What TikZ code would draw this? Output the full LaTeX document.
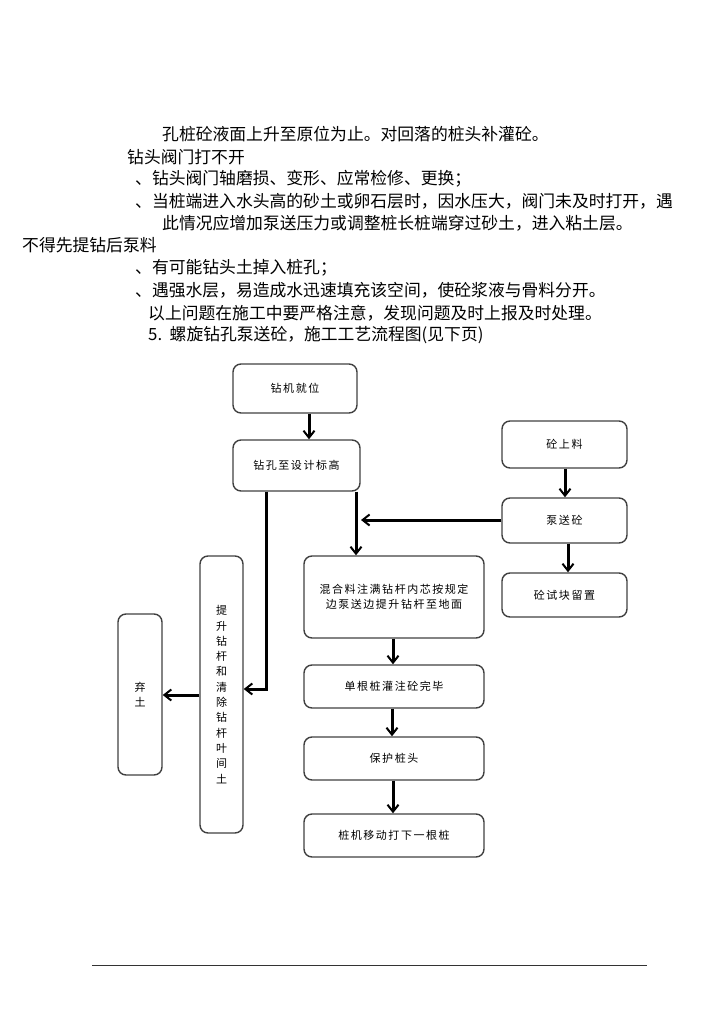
\documentclass[tikz,border=0pt]{standalone}
\usepackage{fontspec}
\setmainfont{Noto Sans CJK SC}
\newfontfamily\boxfont[LetterSpace=14]{Noto Sans CJK SC}
\usetikzlibrary{arrows.meta}
\begin{document}
\begin{tikzpicture}[x=1pt,y=-1pt,
  txt/.style={anchor=west,inner sep=0pt,font=\fontsize{16.8}{18}\selectfont},
  box/.style={draw=black!75,line width=1.4pt,rounded corners=8pt,inner sep=0pt,
    font=\boxfont\fontsize{11}{15}\selectfont,align=center},
  arr/.style={line width=3pt,-{Straight Barb[length=7pt,width=11pt,line width=2pt]}}]
\useasboundingbox (0,0) rectangle (724,1024);
% text
\node[txt] (t1) at (162,134) {孔桩砼液面上升至原位为止。对回落的桩头补灌砼。};
\node[txt] (t2) at (127,157) {钻头阀门打不开};
\node[txt] (t3) at (135,179) {、钻头阀门轴磨损、变形、应常检修、更换；};
\node[txt] (t4) at (135,201) {、当桩端进入水头高的砂土或卵石层时，因水压大，阀门未及时打开，遇};
\node[txt] (t5) at (162,223) {此情况应增加泵送压力或调整桩长桩端穿过砂土，进入粘土层。};
\node[txt] (t6) at (22,245) {不得先提钻后泵料};
\node[txt] (t7) at (135,268) {、有可能钻头土掉入桩孔；};
\node[txt] (t8) at (135,290) {、遇强水层，易造成水迅速填充该空间，使砼浆液与骨料分开。};
\node[txt] (t9) at (148,313) {以上问题在施工中要严格注意，发现问题及时上报及时处理。};
\node[txt] (t10) at (148,335) {5.\ \ 螺旋钻孔泵送砼，施工工艺流程图(见下页)};
% boxes
\node[box,minimum width=124pt,minimum height=49pt] (jw) at (295,388.5) {钻机就位};
\node[box,minimum width=127pt,minimum height=51pt] (zk) at (296.5,465.5) {钻孔至设计标高};
\node[box,minimum width=125pt,minimum height=47pt] (sl) at (564.5,444.5) {砼上料};
\node[box,minimum width=125pt,minimum height=45pt] (bs) at (564.5,520.5) {泵送砼};
\node[box,minimum width=125pt,minimum height=44pt] (sk) at (564.5,595) {砼试块留置};
\node[box,minimum width=180pt,minimum height=82pt] (hh) at (394,597) {混合料注满钻杆内芯按规定\\边泵送边提升钻杆至地面};
\node[box,minimum width=180pt,minimum height=43pt] (dg) at (394,686.5) {单根桩灌注砼完毕};
\node[box,minimum width=180pt,minimum height=43pt] (bh) at (394,758.5) {保护桩头};
\node[box,minimum width=180pt,minimum height=43pt] (zy) at (394,835.5) {桩机移动打下一根桩};
\node[box,minimum width=43pt,minimum height=277pt,font=\boxfont\fontsize{11}{15.3}\selectfont] (ts) at (221.5,694.5) {提\\升\\钻\\杆\\和\\清\\除\\钻\\杆\\叶\\间\\土};
\node[box,minimum width=44pt,minimum height=161pt] (qt) at (140,694.5) {弃\\土};
% connectors
\draw[arr] (jw.south -| 309,0) -- (zk.north -| 309,0);
\draw[arr] (zk.south -| 356,0) -- (hh.north -| 356,0);
\draw[arr] (zk.south -| 266,0) |- (ts.east |- 0,689);
\coordinate (pj) at (361,520);
\draw[arr] (bs.west |- pj) -- (pj);
\draw[arr] (sl.south -| 565,0) -- (bs.north -| 565,0);
\draw[arr] (bs.south -| 568,0) -- (sk.north -| 568,0);
\draw[arr] (hh.south -| 393,0) -- (dg.north -| 393,0);
\draw[arr] (dg.south -| 392,0) -- (bh.north -| 392,0);
\draw[arr] (bh.south -| 393,0) -- (zy.north -| 393,0);
\draw[arr] (ts.west |- 0,695) -- (qt.east |- 0,695);
% footer rule
\coordinate (fl) at (92,965);
\coordinate (fr) at (647,965);
\draw[black!80,line width=1pt] (fl) -- (fr);
\end{tikzpicture}
\end{document}
